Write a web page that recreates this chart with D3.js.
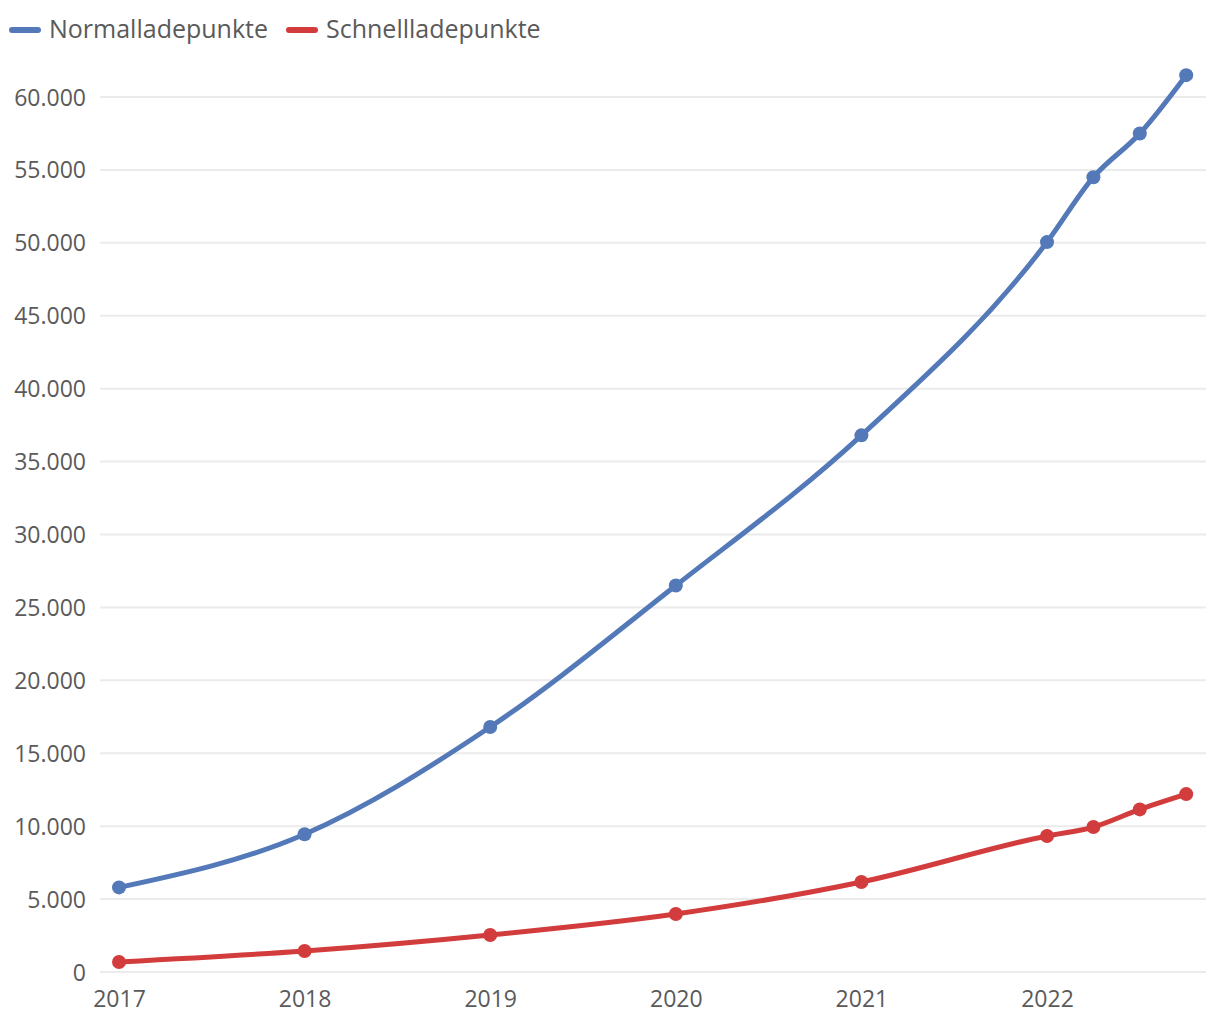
<!DOCTYPE html>
<html><head><meta charset="utf-8">
<script src="https://cdn.jsdelivr.net/npm/d3@7"></script>
<style>body{margin:0;background:#fff;} text{font-family:"Open Sans",Lato,sans-serif;}</style>
</head><body>
<svg id="c" width="1220" height="1020"></svg>
<script>
const xValues = [2017, 2018, 2019, 2020, 2021, 2022, 2022.25, 2022.5, 2022.75];
const normal = [5800, 9450, 16800, 26500, 36800, 50050, 54500, 57500, 61500];
const schnell = [690, 1440, 2540, 3980, 6170, 9330, 9940, 11150, 12200];
const seriesNames = ["Normalladepunkte", "Schnellladepunkte"];
const colors = ["#5479b9", "#d33c3c"];
const yTicks = [0,5000,10000,15000,20000,25000,30000,35000,40000,45000,50000,55000,60000];
const xTicks = [2017, 2018, 2019, 2020, 2021, 2022];

const svg = d3.select("#c");
const x = d3.scaleLinear().domain([2017, 2022]).range([119, 1047]);
const y = d3.scaleLinear().domain([0, 60000]).range([972, 97]);
const fmt = v => d3.format(",")(v).replace(/,/g, ".");

svg.append("g").selectAll("line").data(yTicks).join("line")
  .attr("x1", 100).attr("x2", 1206)
  .attr("y1", d => y(d)).attr("y2", d => y(d))
  .attr("stroke", "#ebebeb").attr("stroke-width", 2);

const yAxis = d3.axisLeft(y).tickValues(yTicks).tickFormat(fmt).tickSize(0).tickPadding(0);
const ya = svg.append("g").attr("transform", "translate(86,0)").call(yAxis);
ya.select(".domain").remove();
ya.selectAll("text").attr("fill", "#5a5a5a").style("font-size", "23px").attr("dy", "0.35em");

const xAxis = d3.axisBottom(x).tickValues(xTicks).tickFormat(d3.format("d")).tickSize(0).tickPadding(0);
const xa = svg.append("g").attr("transform", "translate(0,991)").call(xAxis);
xa.select(".domain").remove();
xa.selectAll("text").attr("fill", "#5a5a5a").style("font-size", "23px").attr("dy", "0.71em");

const line = d3.line().x((d,i) => x(xValues[i])).y(d => y(d)).curve(d3.curveMonotoneX);
[normal, schnell].forEach((s, k) => {
  svg.append("path").attr("d", line(s)).attr("fill", "none")
    .attr("stroke", colors[k]).attr("stroke-width", 5).attr("stroke-linecap", "round");
  svg.append("g").selectAll("circle").data(s).join("circle")
    .attr("cx", (d,i) => x(xValues[i])).attr("cy", d => y(d)).attr("r", 7)
    .attr("fill", colors[k]);
});

const lg = svg.append("g");
const lx = [10, 287];
seriesNames.forEach((n, k) => {
  lg.append("line").attr("x1", lx[k] + 2).attr("x2", lx[k] + 28).attr("y1", 30).attr("y2", 30)
    .attr("stroke", colors[k]).attr("stroke-width", 6).attr("stroke-linecap", "round");
  lg.append("text").attr("x", lx[k] + 39).attr("y", 29).attr("dy", "0.35em")
    .attr("fill", "#5a5a5a").style("font-size", "25px").text(n);
});
</script>
</body></html>
